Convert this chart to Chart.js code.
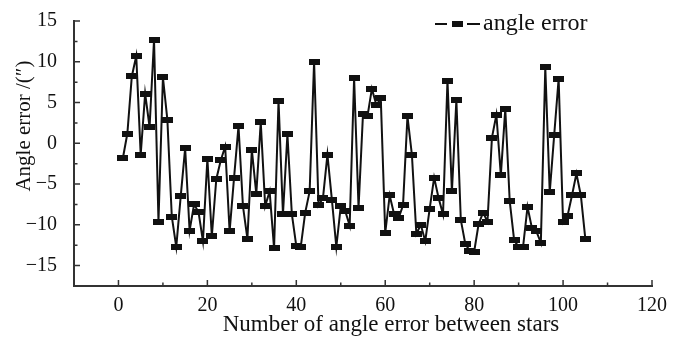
<!DOCTYPE html>
<html>
<head>
<meta charset="utf-8">
<script src="https://cdn.jsdelivr.net/npm/chart.js@4/dist/chart.umd.min.js"></script>
<style>
  body { margin: 0; background: #fff; }
</style>
</head>
<body>
<canvas id="chart" width="673" height="337"></canvas>
<script>
// angle error for each star pair (samples 1..105)
const angleError = [
  -1.8, 1.2, 8.2, 10.7, -1.4, 6.1, 2.0, 12.7, -9.6, 8.1,
  2.9, -9.0, -12.7, -6.5, -0.6, -10.7, -7.5, -8.4, -12.0, -1.9,
  -11.4, -4.4, -2.1, -0.4, -10.8, -4.2, 2.1, -7.7, -11.7, -0.8,
  -6.2, 2.6, -7.7, -5.9, -12.9, 5.2, -8.7, 1.1, -8.7, -12.6,
  -12.7, -8.5, -5.9, 10.0, -7.6, -6.7, -1.4, -6.9, -12.7, -7.7,
  -8.3, -10.1, 8.0, -7.9, 3.6, 3.3, 6.7, 4.7, 5.5, -11.0,
  -6.4, -8.7, -9.2, -7.6, 3.3, -1.4, -11.1, -10.0, -12.0, -8.0,
  -4.2, -6.7, -8.7, 7.7, -5.9, 5.3, -9.4, -12.3, -13.2, -13.3,
  -9.9, -8.5, -9.6, 0.7, 3.5, -3.9, 4.2, -7.1, -11.9, -12.7,
  -12.7, -7.8, -10.4, -10.8, -12.2, 9.3, -6.0, 1.0, 7.9, -9.7,
  -8.9, -6.4, -3.7, -6.4, -11.7
];
const seriesLabel = 'angle error';
const xTitle = 'Number of angle error between stars';
const yTitle = 'Angle error /(\u2033)';

const xTicks = [0, 20, 40, 60, 80, 100, 120];
const xMinorTicks = [-10, 10, 30, 50, 70, 90, 110];
const yTicks = [-15, -10, -5, 0, 5, 10, 15];
const yMinorTicks = [-17.5, -12.5, -7.5, -2.5, 2.5, 7.5, 12.5];

const FONT = 'Liberation Serif';
const INK = '#111';

function makeMarker(w, h) {
  const c = document.createElement('canvas');
  c.width = w;
  c.height = h;
  const g = c.getContext('2d');
  g.fillStyle = '#111';
  g.fillRect(0, 0, w, h);
  return c;
}
const marker = makeMarker(11, 6);

// inward tick marks and the axis titles, placed as in the original
const axisDecor = {
  id: 'axis_decor',
  afterDraw: (chart) => {
    const ctx = chart.ctx;
    const xs = chart.scales.x, ys = chart.scales.y;
    const bottom = chart.chartArea.bottom, left = chart.chartArea.left;
    ctx.save();
    ctx.strokeStyle = '#333';
    ctx.lineWidth = 1.5;
    ctx.beginPath();
    xTicks.forEach(v => { const p = xs.getPixelForValue(v); ctx.moveTo(p, bottom); ctx.lineTo(p, bottom - 6); });
    xMinorTicks.forEach(v => { const p = xs.getPixelForValue(v); ctx.moveTo(p, bottom); ctx.lineTo(p, bottom - 3.5); });
    yTicks.forEach(v => { const p = ys.getPixelForValue(v); ctx.moveTo(left, p); ctx.lineTo(left + 6, p); });
    yMinorTicks.forEach(v => { const p = ys.getPixelForValue(v); ctx.moveTo(left, p); ctx.lineTo(left + 3.5, p); });
    ctx.stroke();

    ctx.fillStyle = INK;
    ctx.textAlign = 'center';
    ctx.textBaseline = 'middle';
    ctx.font = '23px "' + FONT + '"';
    ctx.fillText(xTitle, 391, 325);

    ctx.translate(24, 126);
    ctx.rotate(-Math.PI / 2);
    ctx.font = '21px "' + FONT + '"';
    ctx.fillText(yTitle, 0, 0);
    ctx.restore();
  }
};

// legend: line - marker - line, then the label
const legendBox = {
  id: 'legend_box',
  afterDraw: (chart) => {
    const ctx = chart.ctx;
    const y = 24;
    ctx.save();
    ctx.strokeStyle = '#111';
    ctx.lineWidth = 2;
    ctx.beginPath();
    ctx.moveTo(435, y); ctx.lineTo(447, y);
    ctx.moveTo(467, y); ctx.lineTo(480, y);
    ctx.stroke();
    ctx.drawImage(marker, 452, y - 3);
    ctx.fillStyle = INK;
    ctx.font = '24px "' + FONT + '"';
    ctx.textBaseline = 'middle';
    ctx.textAlign = 'left';
    ctx.fillText(chart.data.datasets[0].label, 483, y);
    ctx.restore();
  }
};

const minus = v => String(v).replace('-', '\u2212');

const chart = new Chart(document.getElementById('chart').getContext('2d'), {
  type: 'line',
  plugins: [axisDecor, legendBox],
  data: {
    datasets: [{
      label: seriesLabel,
      data: angleError.map((v, i) => ({ x: i + 1, y: v })),
      borderColor: '#111',
      borderWidth: 2,
      pointStyle: marker,
      pointRadius: 5,
      tension: 0,
    }]
  },
  options: {
    responsive: false,
    animation: false,
    devicePixelRatio: 1,
    layout: { padding: { left: 0, right: 21, top: 14, bottom: 0 } },
    plugins: {
      legend: { display: false },
      tooltip: { enabled: false },
    },
    scales: {
      x: {
        type: 'linear',
        min: -10,
        max: 120,
        afterBuildTicks: (s) => { s.ticks = xTicks.map(v => ({ value: v })); },
        afterFit: (s) => { s.height = 51; },
        grid: { display: false },
        border: { color: '#333', width: 2 },
        ticks: {
          color: INK,
          padding: 0,
          maxRotation: 0,
          font: { family: FONT, size: 20 },
          callback: (v) => minus(v),
        },
        title: { display: false }
      },
      y: {
        min: -17.5,
        max: 15,
        afterBuildTicks: (s) => { s.ticks = yTicks.map(v => ({ value: v })); },
        afterFit: (s) => { s.width = 74; },
        grid: { display: false },
        border: { color: '#333', width: 2 },
        ticks: {
          color: INK,
          padding: 9,
          font: { family: FONT, size: 20 },
          callback: (v) => minus(v),
        },
        title: { display: false }
      }
    }
  }
});
</script>
</body>
</html>
